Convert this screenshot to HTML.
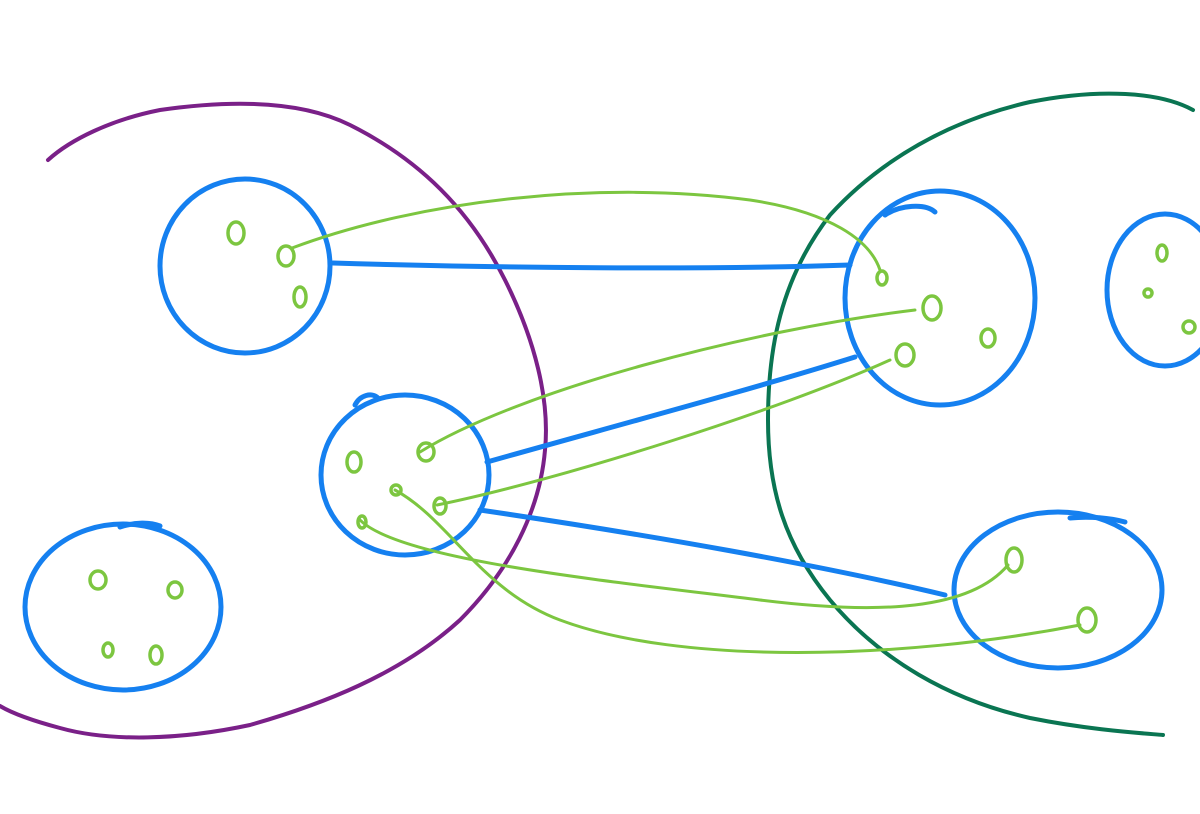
<!DOCTYPE html>
<html><head><meta charset="utf-8"><style>
html,body{margin:0;padding:0;background:#fff;}
svg{display:block;}
</style></head><body>
<svg width="1200" height="814" viewBox="0 0 1200 814" xmlns="http://www.w3.org/2000/svg" fill="none" stroke-linecap="round" stroke-linejoin="round">
<!-- purple -->
<path d="M48,160 C70,140 110,120 160,110 C230,100 300,100 350,125 C420,160 470,210 505,280 C535,340 550,400 545,450 C540,510 510,570 460,620 C400,675 320,705 250,725 C180,740 110,742 60,728 C30,720 10,712 0,706" stroke="#7a2088" stroke-width="4"/>
<!-- dark green -->
<path d="M1193,110 C1160,92 1100,88 1030,102 C950,120 880,160 830,215 C780,280 768,350 768,420 C768,490 785,545 830,600 C880,660 950,700 1030,718 C1090,730 1140,733 1163,735" stroke="#0a7552" stroke-width="4"/>
<!-- blue circles -->
<g stroke="#1580f0" stroke-width="5">
<ellipse cx="245" cy="266" rx="85" ry="87"/>
<ellipse cx="405" cy="475" rx="84" ry="80"/>
<path d="M355,405 C360,395 372,392 378,398"/>
<ellipse cx="123" cy="607" rx="98" ry="83"/>
<path d="M120,527 C135,522 150,522 160,526"/>
<ellipse cx="940" cy="298" rx="95" ry="107"/>
<path d="M885,215 C900,205 925,203 935,212"/>
<ellipse cx="1165" cy="290" rx="58" ry="76"/>
<ellipse cx="1058" cy="590" rx="104" ry="78"/>
<path d="M1070,518 C1090,516 1110,518 1125,522"/>
<!-- blue connectors -->
<path d="M333,263 C500,268 700,270 850,265"/>
<path d="M487,462 C600,430 750,390 855,357"/>
<path d="M480,510 C650,535 820,565 945,595"/>
</g>
<!-- green connectors -->
<g stroke="#7cc640" stroke-width="3">
<path d="M292,248 C420,200 600,180 750,200 C830,212 870,240 880,270"/>
<path d="M420,452 C520,390 750,330 915,310"/>
<path d="M437,505 C560,480 780,410 890,360"/>
<path d="M360,520 C400,560 600,580 760,600 C880,615 970,610 1008,565"/>
<path d="M395,490 C450,520 480,590 560,620 C680,665 900,660 1080,625"/>
</g>
<!-- small o's -->
<g stroke="#7cc640" stroke-width="3.5">
<ellipse cx="236" cy="233" rx="8" ry="11"/>
<ellipse cx="286" cy="256" rx="8" ry="10"/>
<ellipse cx="300" cy="297" rx="6" ry="10"/>
<ellipse cx="354" cy="462" rx="7" ry="10"/>
<ellipse cx="426" cy="452" rx="8" ry="9"/>
<ellipse cx="396" cy="490" rx="5" ry="5"/>
<ellipse cx="440" cy="506" rx="6" ry="8"/>
<ellipse cx="362" cy="522" rx="4" ry="6"/>
<ellipse cx="98" cy="580" rx="8" ry="9"/>
<ellipse cx="175" cy="590" rx="7" ry="8"/>
<ellipse cx="108" cy="650" rx="5" ry="7"/>
<ellipse cx="156" cy="655" rx="6" ry="9"/>
<ellipse cx="882" cy="278" rx="5" ry="7"/>
<ellipse cx="932" cy="308" rx="9" ry="12"/>
<ellipse cx="988" cy="338" rx="7" ry="9"/>
<ellipse cx="905" cy="355" rx="9" ry="11"/>
<ellipse cx="1162" cy="253" rx="5" ry="8"/>
<ellipse cx="1148" cy="293" rx="4" ry="4"/>
<ellipse cx="1189" cy="327" rx="6" ry="6"/>
<ellipse cx="1014" cy="560" rx="8" ry="12"/>
<ellipse cx="1087" cy="620" rx="9" ry="12"/>
</g>
</svg>
</body></html>
